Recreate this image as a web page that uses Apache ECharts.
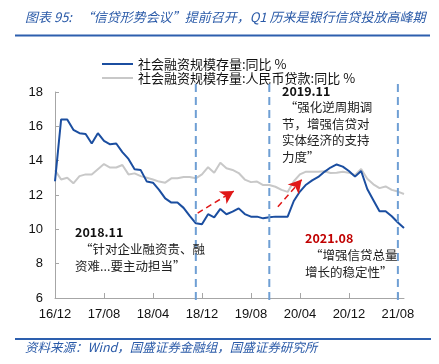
<!DOCTYPE html>
<html>
<head>
<meta charset="utf-8">
<script src="https://cdn.jsdelivr.net/npm/echarts@6/dist/echarts.min.js"></script>
<style>
html, body { margin: 0; padding: 0; background: #fff; }
#chart { width: 439px; height: 364px; }
</style>
</head>
<body>
<div id="chart"></div>
<script>
// months 16/12 .. 21/09
var months = [];
for (var y = 16; y <= 21; y++) {
  for (var m = 1; m <= 12; m++) {
    if ((y === 16 && m < 12) || (y === 21 && m > 9)) continue;
    months.push(y + '/' + (m < 10 ? '0' + m : m));
  }
}

// 社会融资规模存量:同比 %
var tsfGrowth = [
  12.8, 16.4, 16.4, 15.8, 15.6, 15.55, 15.0, 15.6, 15.15, 14.95,
  15.0, 14.5, 14.1, 13.5, 13.45, 12.78, 12.72, 12.3, 11.8, 11.56,
  11.56, 11.25, 10.78, 10.35, 10.3, 10.88, 10.7, 11.19, 10.88, 11.03,
  11.22, 10.89, 10.74, 10.74, 10.64, 10.7, 10.74, 10.74, 10.74, 11.65,
  12.2, 12.6, 12.85, 13.05, 13.35, 13.6, 13.78, 13.65, 13.4, 13.07,
  13.4, 12.35, 11.7, 11.05, 11.05, 10.76, 10.4, 10.08
];

// 社会融资规模存量:人民币贷款:同比 %
var loanGrowth = [
  13.45, 12.9, 13.0, 12.68, 13.1, 13.2, 13.2, 13.5, 13.8, 13.6,
  13.6, 13.75, 13.2, 13.26, 13.1, 13.0, 12.9, 12.78, 12.72, 12.97,
  12.97, 13.05, 13.05, 12.97, 13.2, 13.62, 13.3, 13.88, 13.56, 13.46,
  13.28, 12.9, 12.75, 12.78, 12.58, 12.58, 12.48, 12.3, 12.18, 12.8,
  13.2, 13.36, 13.36, 13.36, 13.38, 13.28, 13.3, 13.36, 13.3, 13.15,
  13.52, 12.95, 12.62, 12.4, 12.5, 12.3, 12.2, 12.06
];

var seriesNames = ['社会融资规模存量:同比 %', '社会融资规模存量:人民币贷款:同比 %'];
var eventMonths = ['18/11', '19/11', '21/08'];

// arrows: [fromIndex, fromValue, toIndex, toValue]
var arrows = [
  [23.3, 10.95, 29.2, 12.23],
  [36.4, 11.32, 40.3, 12.9]
];

var notes = [
  { text: '2018.11', x: 75, y: 232, bold: true, color: '#111' },
  { text: '“针对企业融资贵、融', x: 80, y: 249, color: '#222' },
  { text: '资难...要主动担当”', x: 75, y: 266, color: '#222' },
  { text: '2019.11', x: 282, y: 91, bold: true, color: '#111' },
  { text: ' “强化逆周期调', x: 282, y: 107, color: '#222' },
  { text: '节，增强信贷对', x: 282, y: 124, color: '#222' },
  { text: '实体经济的支持', x: 282, y: 140, color: '#222' },
  { text: '力度”', x: 282, y: 157, color: '#222' },
  { text: '2021.08', x: 305, y: 238, bold: true, color: '#c00000' },
  { text: '“增强信贷总量', x: 310, y: 255, color: '#222' },
  { text: '增长的稳定性”', x: 305, y: 272, color: '#222' }
];

var cjk = '"Noto Sans CJK SC", "Liberation Sans", sans-serif';
var chart = echarts.init(document.getElementById('chart'));

var option = {
  animation: false,
  backgroundColor: '#fff',
  grid: { left: 55, top: 92, width: 349, height: 206 },
  legend: {
    orient: 'vertical',
    left: 97,
    top: 52,
    icon: 'rect',
    itemWidth: 31,
    itemHeight: 2,
    itemGap: 0,
    textStyle: { fontFamily: cjk, fontSize: 13, color: '#111', lineHeight: 14 },
    data: seriesNames
  },
  xAxis: [{
    type: 'category',
    data: months,
    boundaryGap: false,
    axisLine: { lineStyle: { color: '#a6a6a6', width: 1 } },
    axisTick: { inside: true, length: 5, interval: 7, lineStyle: { color: '#a6a6a6' } },
    axisLabel: { interval: 7, margin: 10, fontSize: 13, color: '#111', fontFamily: 'Liberation Sans, Arial' },
    splitLine: { show: false }
  }, {
    type: 'value',
    min: 0,
    max: months.length - 1,
    show: false
  }],
  yAxis: {
    type: 'value',
    min: 6,
    max: 18,
    interval: 2,
    axisLine: { show: true, lineStyle: { color: '#a6a6a6', width: 1 } },
    axisTick: { show: true, inside: true, length: 4, lineStyle: { color: '#a6a6a6' } },
    axisLabel: { margin: 12, fontSize: 13, color: '#111', fontFamily: 'Liberation Sans, Arial' },
    splitLine: { show: false }
  },
  series: [{
    name: seriesNames[1],
    type: 'line',
    data: loanGrowth,
    symbol: 'none',
    lineStyle: { color: '#c8c8c8', width: 2 },
    itemStyle: { color: '#c8c8c8' },
    z: 2
  }, {
    name: seriesNames[0],
    type: 'line',
    data: tsfGrowth,
    symbol: 'none',
    lineStyle: { color: '#1b4ea0', width: 2 },
    itemStyle: { color: '#1b4ea0' },
    z: 3
  }, {
    type: 'line',
    xAxisIndex: 1,
    data: [],
    silent: true,
    markLine: {
      silent: true,
      symbol: ['none', 'arrow'],
      symbolSize: [11, 13],
      label: { show: false },
      lineStyle: { color: '#e01818', width: 1.5, type: [6, 4] },
      emphasis: { disabled: true },
      data: arrows.map(function (a) {
        return [{ coord: [a[0], a[1]] }, { coord: [a[2], a[3]] }];
      })
    }
  }]
};
chart.setOption(option);

// graphics: title, rules, notes, event lines
var graphics = [];
graphics.push({
  type: 'text', left: 25, top: 11,
  style: {
    text: '图表 95:   “信贷形势会议”提前召开，Q1 历来是银行信贷投放高峰期',
    fill: '#2a5aa8', font: 'italic 13px ' + cjk
  }
});
graphics.push({ type: 'rect', shape: { x: 15, y: 34.5, width: 415, height: 2 }, style: { fill: '#2d5fae' } });
graphics.push({ type: 'rect', shape: { x: 15, y: 338, width: 416, height: 2 }, style: { fill: '#2d5fae' } });
graphics.push({
  type: 'text', left: 25, top: 341,
  style: {
    text: '资料来源：Wind，国盛证券金融组，国盛证券研究所',
    fill: '#2a5aa8', font: 'italic 12.5px ' + cjk
  }
});

notes.forEach(function (n) {
  graphics.push({
    type: 'text',
    style: {
      x: n.x, y: n.y,
      text: n.text,
      fill: n.color,
      font: (n.bold ? 'bold ' : '') + '12.5px ' + cjk,
      verticalAlign: 'middle'
    },
    z: 10
  });
});

eventMonths.forEach(function (mo) {
  var p0 = chart.convertToPixel({ xAxisIndex: 0, yAxisIndex: 0 }, [mo, 6]);
  var p1 = chart.convertToPixel({ xAxisIndex: 0, yAxisIndex: 0 }, [mo, 18]);
  graphics.push({
    type: 'line',
    shape: { x1: p0[0], y1: p0[1] + 2, x2: p1[0], y2: p1[1] - 11 },
    style: { stroke: '#6f9fd4', lineWidth: 2, lineDash: [8, 5] },
    z: 5
  });
});

chart.setOption({ graphic: graphics });
</script>
</body>
</html>
